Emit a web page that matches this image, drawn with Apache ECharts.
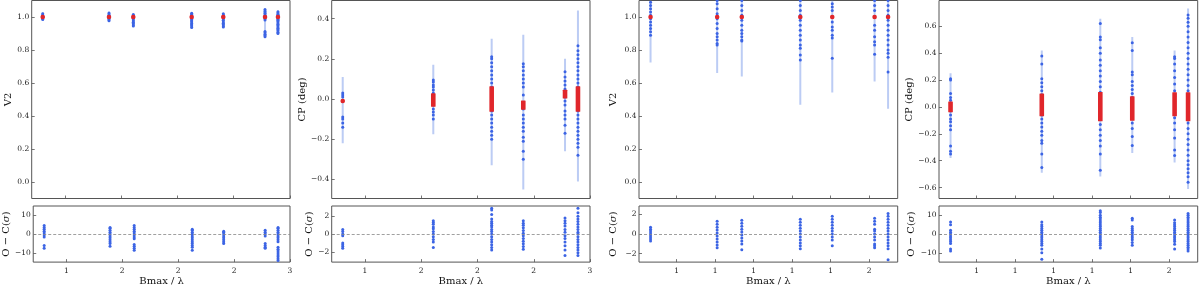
<!DOCTYPE html>
<html><head><meta charset="utf-8">
<script src="https://cdn.jsdelivr.net/npm/echarts@6/dist/echarts.min.js"></script>
<style>html,body{margin:0;padding:0;background:#fff}#c{width:1200px;height:287px}</style>
</head><body><div id="c"></div><script>
// ---------- tick labels ----------
const xTickValsA = [1.0, 1.5, 2.0, 2.5, 3.0];
const xTickLabelsA = ['1', '2', '2', '2', '3'];
const xTickValsB = [1.0, 1.1, 1.2, 1.3, 1.4, 1.5];
const xTickLabelsB = ['1', '1', '1', '1', '1', '2'];
const yTicksV2 = [0.0, 0.2, 0.4, 0.6, 0.8, 1.0];
const yTicksCPA = [-0.4, -0.2, 0.0, 0.2, 0.4];
const yTicksCPB = [-0.6, -0.4, -0.2, 0.0, 0.2, 0.4, 0.6];
const rTicks10 = [-10, 0, 10];
const rTicks2 = [-2, 0, 2];

// ---------- panel 1 : V2 (set A) ----------
const colX1 = [0.802, 1.391, 1.607, 2.126, 2.407, 2.778, 2.893];
const v2A = [
  [1.02, 1.012, 1.005, 1.0, 0.995, 0.99, 0.985],
  [1.025, 1.018, 1.01, 1.003, 0.997, 0.99, 0.984, 0.978],
  [1.015, 1.008, 1.0, 0.992, 0.984, 0.976, 0.968, 0.96, 0.952, 0.945],
  [1.022, 1.015, 1.008, 1.0, 0.993, 0.985, 0.977, 0.969, 0.961, 0.953, 0.945, 0.937],
  [1.02, 1.012, 1.004, 0.996, 0.988, 0.98, 0.97, 0.962, 0.954, 0.946, 0.94],
  [1.045, 1.037, 1.03, 1.022, 1.014, 1.006, 0.998, 0.99, 0.982, 0.912, 0.904, 0.896, 0.888, 0.88],
  [1.032, 1.025, 1.017, 1.01, 1.002, 0.995, 0.987, 0.98, 0.972, 0.964, 0.956, 0.948, 0.94, 0.932, 0.924, 0.916, 0.908, 0.9]
];
const v2AErr = [[0.98, 1.03], [0.97, 1.032], [0.94, 1.02], [0.93, 1.03], [0.935, 1.025], [0.875, 1.05], [0.895, 1.04]];
const v2AModel = [[1.0, 1.0], [1.0, 1.0], [1.0, 1.0], [1.0, 1.0], [1.0, 1.0], [1.0, 1.0], [1.0, 1.0]];
const v2ARes = [
  [4.5, 3.5, 2.5, 1.5, 0.5, -0.5, -1.5, -6, -7.5],
  [3.5, 3, 2, 1, 0, -1, -2, -3, -4, -5, -6.5],
  [4.5, 3.5, 2.5, 1.5, 0.5, -0.5, -1.5, -2.5, -5.5, -6.5, -7.5, -8.5],
  [2.5, 2, 1, 0, -1, -2, -3, -4, -5, -6, -7, -8.5],
  [1.5, 1, 0, -1, -2, -3, -4, -5],
  [2, 1, 0, -1, -5, -6, -7, -7.5],
  [3.5, 3, 2, 1, 0, -1, -2, -3, -4, -7, -8, -9, -10, -11, -12, -13, -14]
];

// ---------- panel 2 : CP (set A) ----------
const colX2 = [0.802, 1.607, 2.126, 2.407, 2.778, 2.893];
const cpA = [
  [0.03, 0.02, 0.01, -0.01, -0.09, -0.1, -0.12, -0.14],
  [0.095, 0.085, 0.07, 0.06, 0.045, 0.03, 0.015, 0.0, -0.015, -0.03, -0.05, -0.065, -0.08, -0.1],
  [0.21, 0.2, 0.18, 0.16, 0.14, 0.12, 0.1, 0.08, 0.06, 0.04, 0.02, 0.0, -0.02, -0.04, -0.06, -0.08, -0.1, -0.12, -0.14, -0.16, -0.18, -0.2],
  [0.175, 0.16, 0.14, 0.12, 0.1, 0.08, 0.06, 0.02, -0.02, -0.05, -0.08, -0.1, -0.12, -0.14, -0.16, -0.19, -0.21, -0.26, -0.3],
  [0.135, 0.11, 0.09, 0.07, 0.05, 0.03, 0.01, -0.01, -0.03, -0.06, -0.08, -0.1, -0.13, -0.17],
  [0.265, 0.24, 0.22, 0.2, 0.18, 0.16, 0.14, 0.12, 0.1, 0.08, 0.06, 0.04, 0.02, 0.0, -0.02, -0.04, -0.06, -0.08, -0.1, -0.12, -0.14, -0.16, -0.18, -0.2, -0.22, -0.24, -0.28]
];
const cpAErr = [[-0.22, 0.11], [-0.175, 0.17], [-0.33, 0.30], [-0.45, 0.32], [-0.26, 0.20], [-0.41, 0.44]];
const cpAModel = [[-0.02, 0.0], [-0.038, 0.028], [-0.063, 0.063], [-0.053, -0.008], [0.003, 0.046], [-0.063, 0.063]];
const cpARes = [
  [0.5, 0.3, 0, -0.2, -1.0, -1.2, -1.4, -1.6],
  [1.5, 1.3, 1.1, 0.8, 0.6, 0.3, 0, -0.3, -0.6, -0.9, -1.5],
  [2.9, 2.7, 2.2, 1.7, 1.4, 1.2, 1.0, 0.8, 0.5, 0.3, 0, -0.3, -0.6, -0.9, -1.2, -1.5, -1.8],
  [1.5, 1.2, 1.0, 0.7, 0.4, 0.1, -0.2, -0.5, -0.8, -1.1, -1.4, -1.7],
  [1.8, 1.5, 1.2, 0.9, 0.5, 0.2, -0.2, -0.5, -0.9, -1.3, -1.8, -2.4],
  [2.9, 2.4, 2.0, 1.7, 1.4, 1.1, 0.8, 0.5, 0.2, 0, -0.3, -0.6, -0.9, -1.2, -1.5, -1.8, -2.1, -2.4]
];

// ---------- panel 3 : V2 (set B) ----------
const colX3 = [0.932, 1.105, 1.169, 1.321, 1.404, 1.514, 1.549];
const v2B = [
  [1.09, 1.07, 1.05, 1.03, 1.01, 0.99, 0.97, 0.95, 0.93, 0.91, 0.89],
  [1.1, 1.08, 1.05, 1.02, 0.99, 0.96, 0.93, 0.9, 0.88, 0.86, 0.84, 0.83],
  [1.1, 1.07, 1.04, 1.01, 0.98, 0.95, 0.92, 0.9, 0.88, 0.86, 0.855],
  [1.1, 1.07, 1.04, 1.01, 0.98, 0.95, 0.92, 0.89, 0.86, 0.83, 0.81, 0.77, 0.74],
  [1.08, 1.06, 1.04, 1.0, 0.97, 0.94, 0.92, 0.89, 0.873, 0.75],
  [1.1, 1.07, 1.04, 1.0, 0.95, 0.92, 0.88, 0.85, 0.83, 0.774],
  [1.1, 1.07, 1.04, 1.01, 0.98, 0.95, 0.92, 0.89, 0.86, 0.83, 0.8, 0.78, 0.756, 0.667]
];
const v2BErr = [[0.725, 1.15], [0.66, 1.15], [0.64, 1.15], [0.468, 1.15], [0.542, 1.15], [0.609, 1.15], [0.444, 1.15]];
const v2BModel = [[1.0, 1.0], [1.0, 1.0], [1.0, 1.0], [1.0, 1.0], [1.0, 1.0], [1.0, 1.0], [1.0, 1.0]];
const v2BRes = [
  [0.7, 0.5, 0.3, 0.1, -0.1, -0.3, -0.5, -0.7],
  [1.3, 1.0, 0.7, 0.4, 0.1, -0.2, -0.5, -0.8, -1.1, -1.4],
  [1.4, 1.1, 0.8, 0.5, 0.2, -0.1, -0.4, -0.7, -1.0, -1.6],
  [1.5, 1.2, 0.9, 0.6, 0.3, 0, -0.3, -0.6, -0.9, -1.2, -1.5],
  [1.8, 1.5, 1.2, 0.9, 0.6, 0.3, 0, -0.3, -0.6, -1.2],
  [1.6, 1.3, 1.0, 0.5, 0.3, 0, -0.3, -0.6, -1.0, -1.2, -1.4],
  [2.1, 1.8, 1.5, 1.2, 0.9, 0.6, 0.3, 0, -0.3, -0.6, -0.9, -1.2, -1.5, -2.6]
];

// ---------- panel 4 : CP (set B) ----------
const colX4 = [0.932, 1.169, 1.321, 1.404, 1.514, 1.549];
const cpB = [
  [0.21, 0.2, 0.1, 0.07, 0.05, 0.03, 0.0, -0.03, -0.06, -0.09, -0.11, -0.14, -0.17, -0.29, -0.33, -0.35],
  [0.38, 0.32, 0.21, 0.18, 0.15, 0.12, 0.09, 0.06, 0.03, 0.0, -0.03, -0.06, -0.09, -0.12, -0.15, -0.18, -0.21, -0.25, -0.27, -0.35, -0.45],
  [0.62, 0.52, 0.5, 0.44, 0.4, 0.35, 0.31, 0.27, 0.23, 0.19, 0.15, 0.11, 0.07, 0.03, -0.01, -0.05, -0.09, -0.13, -0.17, -0.21, -0.25, -0.29, -0.35, -0.47],
  [0.478, 0.42, 0.26, 0.24, 0.19, 0.16, 0.13, 0.1, 0.07, 0.04, 0.0, -0.04, -0.08, -0.12, -0.16, -0.22, -0.287],
  [0.373, 0.36, 0.32, 0.27, 0.22, 0.17, 0.12, 0.08, 0.04, 0.0, -0.04, -0.08, -0.12, -0.17, -0.23, -0.32, -0.361],
  [0.684, 0.66, 0.63, 0.6, 0.56, 0.52, 0.48, 0.44, 0.4, 0.36, 0.32, 0.28, 0.24, 0.2, 0.16, 0.12, 0.08, 0.04, 0.0, -0.04, -0.08, -0.12, -0.16, -0.2, -0.24, -0.28, -0.32, -0.36, -0.4, -0.43, -0.46, -0.49, -0.52, -0.56]
];
const cpBErr = [[-0.38, 0.25], [-0.49, 0.42], [-0.518, 0.657], [-0.343, 0.52], [-0.413, 0.42], [-0.61, 0.733]];
const cpBModel = [[-0.04, 0.04], [-0.07, 0.10], [-0.107, 0.112], [-0.102, 0.079], [-0.07, 0.109], [-0.107, 0.109]];
const cpBRes = [
  [6.5, 5, 2, 1, 0, -1, -2, -3, -4, -5, -8, -9],
  [6.5, 5, 4, 3, 2, 1, 0, -1, -2, -3, -4, -5, -6, -8, -10, -13.5],
  [12.5, 11.5, 10, 9, 8, 7, 6, 5, 4, 3, 2, 1, 0, -1, -2, -3, -4, -5, -6, -7.5],
  [8.5, 7.5, 4, 3, 2, 1, 0, -1, -2, -3, -4.5, -6],
  [7.5, 6, 5, 4, 3, 2, 1, 0, -1, -2, -3, -4, -5.5, -8],
  [11, 10, 9, 8, 7, 6, 5, 4, 3, 2, 1, 0, -1, -2, -3, -4, -5, -6, -7, -8, -9]
];

// ---------- build ----------
const FONT = 'DejaVu Serif';
const BLUE = '#3c64e4';
const ERRC = 'rgba(80,120,225,0.38)';
const RED = '#e0262b';
const FRAME = '#555';

const panels = [
  { left: 31.7, right: 290, gap: 12, xMin: 0.704, xMax: 3.0, xt: xTickValsA, xl: xTickLabelsA,
    yMin: -0.1, yMax: 1.1, yt: yTicksV2, yName: 'V2', dec: 1,
    cols: colX1, pts: v2A, err: v2AErr, model: v2AModel, res: v2ARes, rMin: -14.8, rMax: 14.8, rt: rTicks10 },
  { left: 331.7, right: 590, gap: 12, xMin: 0.704, xMax: 3.0, xt: xTickValsA, xl: xTickLabelsA,
    yMin: -0.495, yMax: 0.49, yt: yTicksCPA, yName: 'CP (deg)', dec: 1,
    cols: colX2, pts: cpA, err: cpAErr, model: cpAModel, res: cpARes, rMin: -3.15, rMax: 3.15, rt: rTicks2 },
  { left: 639, right: 897.7, gap: 20, xMin: 0.902, xMax: 1.574, xt: xTickValsB, xl: xTickLabelsB,
    yMin: -0.1, yMax: 1.1, yt: yTicksV2, yName: 'V2', dec: 1,
    cols: colX3, pts: v2B, err: v2BErr, model: v2BModel, res: v2BRes, rMin: -2.85, rMax: 2.85, rt: rTicks2 },
  { left: 939, right: 1197.7, gap: 20, xMin: 0.902, xMax: 1.574, xt: xTickValsB, xl: xTickLabelsB,
    yMin: -0.681, yMax: 0.792, yt: yTicksCPB, yName: 'CP (deg)', dec: 1,
    cols: colX4, pts: cpB, err: cpBErr, model: cpBModel, res: cpBRes, rMin: -15, rMax: 15, rt: rTicks10 }
];

const minus = s => String(s).replace('-', '\u2212');
const grid = [], xAxis = [], yAxis = [], series = [];
const labelStyle = { fontFamily: FONT, fontSize: 7.5, color: '#222' };
const tickStyle = { show: true, inside: true, length: 3, lineStyle: { color: FRAME, width: 0.8 } };
const noLine = { show: false, onZero: false };

function errRender(params, api) {
  const a = api.coord([api.value(0), api.value(1)]);
  const b = api.coord([api.value(0), api.value(2)]);
  return { type: 'line', shape: { x1: a[0], y1: a[1], x2: b[0], y2: b[1] },
           style: { stroke: ERRC, lineWidth: 2 } };
}
function modelRender(params, api) {
  const a = api.coord([api.value(0), api.value(1)]);
  const b = api.coord([api.value(0), api.value(2)]);
  const w = 4.6;
  const top = Math.min(a[1], b[1]), h = Math.abs(a[1] - b[1]);
  const hh = Math.max(h, 4.6);
  return { type: 'rect', shape: { x: a[0] - w / 2, y: top - (hh - h) / 2, width: w, height: hh, r: h < 4.6 ? 2.2 : 0.5 },
           style: { fill: RED } };
}

panels.forEach((p, k) => {
  const gi = 2 * k, ri = 2 * k + 1;
  const w = p.right - p.left;
  grid.push({ left: p.left, top: 0.5, width: w, height: 198, show: true, borderColor: FRAME, borderWidth: 1, backgroundColor: 'transparent' });
  grid.push({ left: p.left, top: 206, width: w, height: 60.7, show: true, borderColor: FRAME, borderWidth: 1, backgroundColor: 'transparent' });
  const xfmt = v => { const i = p.xt.findIndex(t => Math.abs(t - v) < 1e-9); return i >= 0 ? p.xl[i] : ''; };
  xAxis.push({ type: 'value', gridIndex: gi, min: p.xMin, max: p.xMax, axisLine: noLine, splitLine: { show: false },
    axisTick: Object.assign({ customValues: p.xt }, tickStyle), axisLabel: { show: false, customValues: p.xt } });
  xAxis.push({ type: 'value', gridIndex: ri, min: p.xMin, max: p.xMax, axisLine: noLine, splitLine: { show: false },
    axisTick: Object.assign({ customValues: p.xt }, tickStyle),
    axisLabel: Object.assign({ customValues: p.xt, formatter: xfmt, margin: 5, showMinLabel: true, showMaxLabel: true }, labelStyle),
    name: 'Bmax / \u03bb', nameLocation: 'middle', nameGap: 11, nameTextStyle: { fontFamily: FONT, fontSize: 10, color: '#111' } });
  yAxis.push({ type: 'value', gridIndex: gi, min: p.yMin, max: p.yMax, axisLine: noLine, splitLine: { show: false },
    axisTick: Object.assign({ customValues: p.yt }, tickStyle),
    axisLabel: Object.assign({ customValues: p.yt, formatter: v => minus(v.toFixed(p.dec)), margin: 2.5 }, labelStyle),
    name: p.yName, nameLocation: 'middle', nameGap: p.gap + 1, nameTextStyle: { fontFamily: FONT, fontSize: 10, color: '#111' } });
  yAxis.push({ type: 'value', gridIndex: ri, min: p.rMin, max: p.rMax, axisLine: noLine, splitLine: { show: false },
    axisTick: Object.assign({ customValues: p.rt }, tickStyle),
    axisLabel: Object.assign({ customValues: p.rt, formatter: v => minus(v), margin: 2.5 }, labelStyle),
    name: '{a|O \u2212 C(}{b|\u03c3}{a|)}', nameLocation: 'middle', nameGap: p.gap + 1,
    nameTextStyle: { fontFamily: FONT, fontSize: 10, color: '#111',
      rich: { a: { fontFamily: FONT, fontSize: 10, color: '#111' }, b: { fontFamily: FONT, fontSize: 10, fontStyle: 'italic', color: '#111' } } } });

  series.push({ type: 'custom', xAxisIndex: gi, yAxisIndex: gi, clip: true, silent: true, z: 1,
    renderItem: errRender, encode: { x: 0, y: [1, 2] },
    data: p.cols.map((x, i) => [x, p.err[i][0], p.err[i][1]]) });
  const flat = [];
  p.cols.forEach((x, i) => p.pts[i].forEach(v => flat.push([x, v])));
  series.push({ type: 'scatter', xAxisIndex: gi, yAxisIndex: gi, symbol: 'circle', symbolSize: 3, silent: true, z: 2,
    itemStyle: { color: BLUE, opacity: 1 }, data: flat, clip: true });
  series.push({ type: 'custom', xAxisIndex: gi, yAxisIndex: gi, clip: true, silent: true, z: 3,
    renderItem: modelRender, encode: { x: 0, y: [1, 2] },
    data: p.cols.map((x, i) => [x, p.model[i][0], p.model[i][1]]) });
  const rflat = [];
  p.cols.forEach((x, i) => p.res[i].forEach(v => rflat.push([x, v])));
  series.push({ type: 'scatter', xAxisIndex: ri, yAxisIndex: ri, symbol: 'circle', symbolSize: 3, silent: true, z: 2,
    itemStyle: { color: BLUE, opacity: 1 }, data: rflat, clip: true,
    markLine: { silent: true, symbol: ['none', 'none'], label: { show: false },
      lineStyle: { color: '#888', type: [3, 2], width: 0.8 }, data: [{ yAxis: 0 }] } });
});

const chart = echarts.init(document.getElementById('c'), null, { renderer: 'canvas' });
chart.setOption({ animation: false, backgroundColor: '#fff', grid, xAxis, yAxis, series });
</script></body></html>
